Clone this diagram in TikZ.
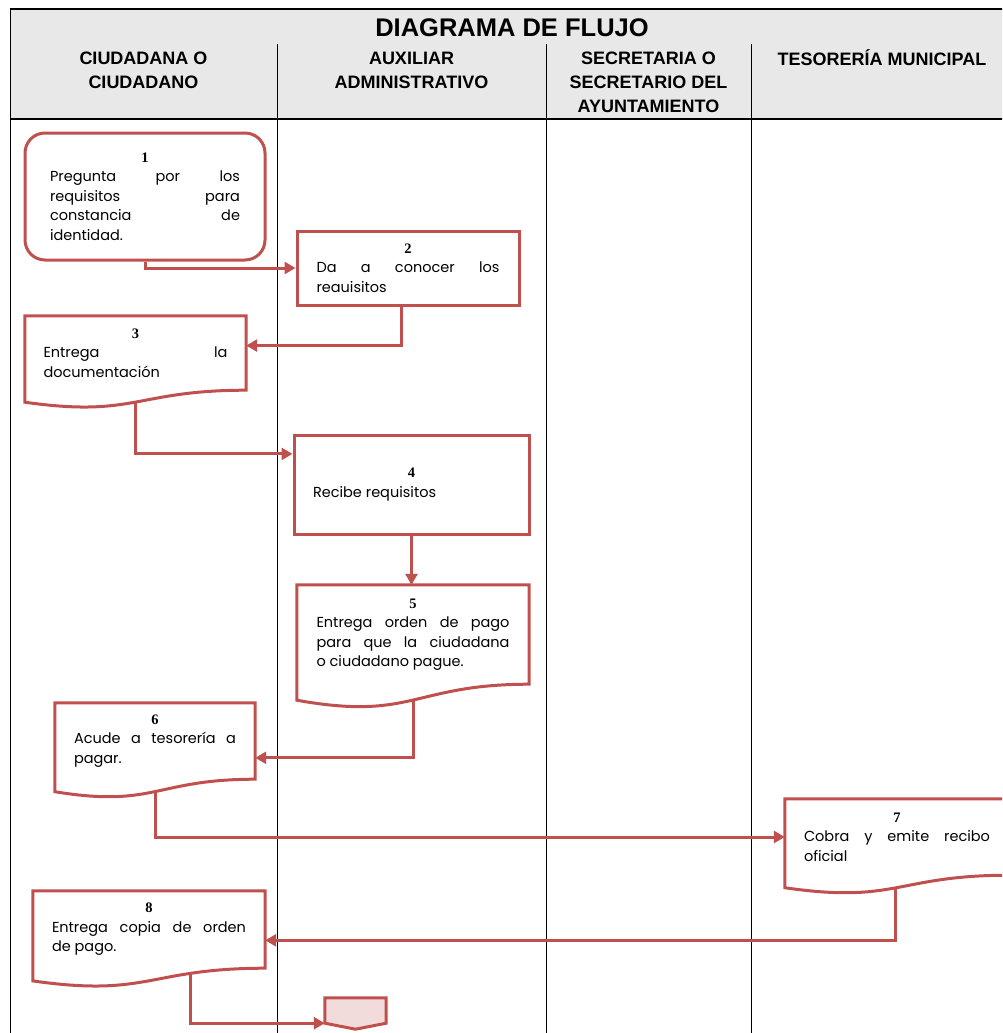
\documentclass[tikz,border=0pt]{standalone}
\usepackage{fontspec}
\setmainfont{Poppins}
\newfontfamily\hdrfont{Liberation Sans}
\newfontfamily\numfont{Liberation Serif}
\usetikzlibrary{arrows.meta,calc}
\definecolor{redline}{HTML}{C0504D}
\definecolor{hdrgray}{HTML}{E8E8E8}
\definecolor{connfill}{HTML}{F2DCDB}
\newcommand\bodyfont{\fontsize{14.5}{19.5}\selectfont}
\newcommand\stepnum[1]{\hfill{\numfont\bfseries\fontsize{14.5}{19.5}\selectfont #1}\hfill\null\\}
\newcommand\docwave[2]{%
  \draw[flowline] (#1.north west) -- (#1.north east) -- (#1.south east)
    .. controls (#1.south) and ($(#1.south)+(0,{2.31*#2})$) .. ($(#1.south west)+(0,#2)$) -- cycle;}
\begin{document}
\begin{tikzpicture}[x=1pt,y=-1pt,
  flowline/.style={draw=redline, line width=3pt, line join=miter},
  box/.style={flowline, fill=white, inner xsep=0pt, inner ysep=0pt, align=justify, font=\bodyfont},
  docnode/.style={inner xsep=0pt, inner ysep=0pt, align=justify, font=\bodyfont},
  flowarrow/.style={draw=redline, line width=3pt, -{Triangle[length=11pt,width=12pt]}},
  lane/.style={draw=black, line width=0.8pt},
  hdr/.style={font=\hdrfont\bfseries\fontsize{18}{24}\selectfont, align=center, inner sep=0pt},
  ttl/.style={font=\hdrfont\bfseries\fontsize{25.5}{30}\selectfont, inner sep=0pt}]
\useasboundingbox (0,0) rectangle (1002,1033);
\clip (0,0) rectangle (1002,1033);
% table
\fill[hdrgray] (10,9) rectangle (1013,119);
\draw[line width=1.5pt] (10,9) -- (1013,9);
\draw[line width=1.5pt] (10,119) -- (1013,119);
\draw[lane] (10,9) -- (10,1033);
\draw[lane] (277,44) -- (277,1033);
\draw[lane] (546,44) -- (546,1033);
\draw[lane] (751,44) -- (751,1033);
\node[ttl] (title) at (512,28) {DIAGRAMA DE FLUJO};
\node[hdr] (h1) at (143.5,70) {CIUDADANA O\\CIUDADANO};
\node[hdr] (h2) at (411.5,70) {AUXILIAR\\ADMINISTRATIVO};
\node[hdr] (h3) at (648.5,82) {SECRETARIA O\\SECRETARIO DEL\\AYUNTAMIENTO};
\node[hdr] (h4) at (882,58) {TESORERÍA MUNICIPAL};
% nodes
\node[box, rounded corners=20pt, text width=190pt, minimum width=240pt, minimum height=127pt] (n1) at (145,196.5)
  {\stepnum{1}Pregunta por los\linebreak requisitos para\linebreak constancia de\linebreak identidad.};
\node[box, text width=183pt, minimum width=222pt, minimum height=74pt] (n2) at (408,268)
  {\stepnum{2}Da a conocer los\linebreak reauisitos};
\node[docnode, text width=184pt, minimum width=221pt, minimum height=74pt] (n3) at (135.5,353)
  {\stepnum{3}Entrega la\linebreak documentación};
\docwave{n3}{12}
\node[box, text width=197pt, minimum width=235pt, minimum height=99pt] (n4) at (411.5,484.5)
  {\stepnum{4}Recibe requisitos};
\node[docnode, text width=193pt, minimum width=232pt, minimum height=99pt] (n5) at (413,634.5)
  {\stepnum{5}Entrega orden de pago\linebreak para que la ciudadana\linebreak o ciudadano pague.};
\docwave{n5}{16}
\node[docnode, text width=162pt, minimum width=200pt, minimum height=76pt] (n6) at (155,741)
  {\stepnum{6}Acude a tesorería a\linebreak pagar.};
\docwave{n6}{12.5}
\node[docnode, text width=186pt, minimum width=224pt, minimum height=76pt] (n7) at (897,837)
  {\stepnum{7}Cobra y emite recibo\linebreak oficial};
\docwave{n7}{12.5}
\node[docnode, text width=194pt, minimum width=232pt, minimum height=77pt] (n8) at (149,929.5)
  {\stepnum{8}Entrega copia de orden\linebreak de pago.};
\docwave{n8}{12.7}
\node[minimum width=61pt, minimum height=25pt, inner sep=0pt] (conn) at (355.5,1010.5) {};
\draw[flowline, fill=connfill] (conn.north west) -- (conn.north east) -- (conn.south east)
  -- ($(conn.south)+(0,6)$) -- (conn.south west) -- cycle;
% connectors
\draw[flowarrow] (n1.south) |- (n2.west);
\draw[flowarrow] ($(n2.south)+(-7,0)$) |- ($(n3.north east)!0.4!(n3.south east)$);
\draw[flowarrow] ($(n3.south)+(0,12)$) |- ($(n4.north west)!0.2!(n4.south west)$);
\draw[flowarrow] (n4.south) -- (n4.south |- n5.north);
\draw[flowarrow] ($(n5.south)+(0,16)$) |- ($(n6.north east)!0.72!(n6.south east)$);
\draw[flowarrow] ($(n6.south)+(0,12.5)$) |- (n7.west);
\draw[flowarrow] ($(n7.south)+(-2,12.5)$) |- ($(n8.north east)!0.64!(n8.south east)$);
\draw[flowarrow] ($(n8.south)+(41,5)$) |- (conn.south west);
\end{tikzpicture}
\end{document}
